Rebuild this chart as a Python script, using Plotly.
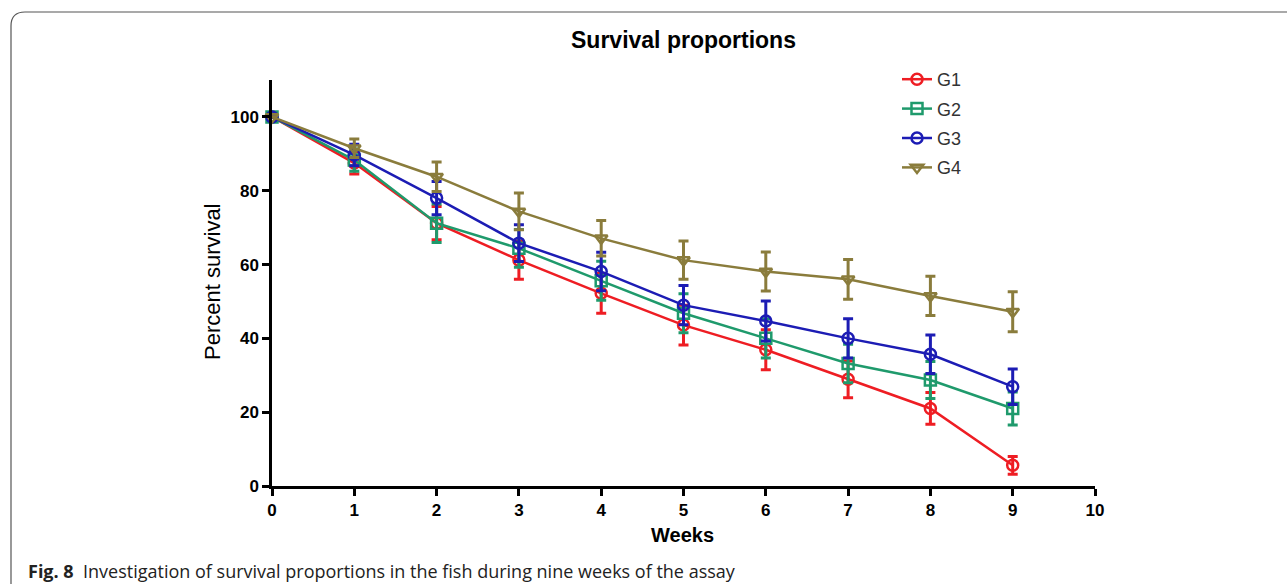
import plotly.graph_objects as go

weeks = [0, 1, 2, 3, 4, 5, 6, 7, 8, 9]
groups = ["G1", "G2", "G3", "G4"]
g1 = [100, 87.5, 71.2, 61.2, 52.2, 43.6, 36.9, 28.9, 21.0, 5.6]
g2 = [100, 88.3, 71.2, 64.4, 55.6, 46.8, 40.0, 33.2, 28.7, 21.0]
g3 = [100, 89.7, 78.0, 65.8, 58.1, 49.0, 44.7, 40.0, 35.7, 26.9]
g4 = [100, 91.5, 83.8, 74.4, 67.1, 61.2, 58.1, 56.0, 51.5, 47.2]
g1_err = [0, 3.0, 4.5, 5.2, 5.4, 5.4, 5.4, 5.0, 4.3, 2.4]
g2_err = [0, 3.0, 5.2, 5.1, 5.3, 5.3, 5.3, 5.2, 5.0, 4.5]
g3_err = [0, 2.9, 4.5, 5.0, 5.2, 5.3, 5.4, 5.3, 5.2, 4.8]
g4_err = [0, 2.5, 4.0, 5.0, 4.8, 5.2, 5.3, 5.4, 5.3, 5.4]
x_ticks = [0, 1, 2, 3, 4, 5, 6, 7, 8, 9, 10]
y_ticks = [0, 20, 40, 60, 80, 100]

colors = ["#ee1d23", "#1f9a6c", "#1c1cb4", "#8a7c3c"]
symbols = ["circle-open", "square-open", "circle-open", "triangle-down-open"]
values = [g1, g2, g3, g4]
errs = [g1_err, g2_err, g3_err, g4_err]

W, H = 1287, 584
L, R, T, B = 272, 1095, 80, 486
pw, ph = R - L, B - T

def px(x):
    return (x - L) / pw

def py(y):
    return (B - y) / ph

narrow = "Liberation Sans Narrow, Arial Narrow, Liberation Sans, Arial, sans-serif"

fig = go.Figure()
for name, v, e, c, s in zip(groups, values, errs, colors, symbols):
    fig.add_trace(go.Scatter(
        x=weeks, y=v, name=name, legendgroup=name, mode="lines+markers",
        line=dict(color=c, width=2.5),
        marker=dict(symbol=s, size=11, color=c, line=dict(color=c, width=2.5)),
        error_y=dict(type="data", array=e, visible=True, color=c, thickness=3, width=5),
        cliponaxis=False,
    ))

fig.update_layout(
    width=W, height=H,
    margin=dict(l=L, r=W - R, t=T, b=H - B),
    paper_bgcolor="white", plot_bgcolor="white",
    showlegend=True,
    legend=dict(x=px(897), y=py(61), xanchor="left", yanchor="top",
                font=dict(family="Liberation Sans, Arial, sans-serif", size=18, color="#333"),
                bgcolor="rgba(0,0,0,0)", itemwidth=30, tracegroupgap=3),
    xaxis=dict(range=[0, 10], tickvals=x_ticks, showgrid=False, zeroline=False,
               showline=True, linecolor="black", linewidth=2.5,
               ticks="outside", ticklen=7, tickwidth=2.5, tickcolor="black",
               tickfont=dict(family=narrow, size=17, color="black", weight="bold")),
    yaxis=dict(range=[0, 110], tickvals=y_ticks, showgrid=False, zeroline=False,
               showline=True, linecolor="black", linewidth=2.5,
               ticks="outside", ticklen=7, tickwidth=2.5, tickcolor="black",
               tickfont=dict(family=narrow, size=17, color="black", weight="bold")),
    annotations=[
        dict(text="<b>Survival proportions</b>", xref="paper", yref="paper",
             x=px(683), y=py(40), xanchor="center", yanchor="middle", showarrow=False,
             font=dict(family=narrow, size=23, color="black")),
        dict(text="<b>Weeks</b>", xref="paper", yref="paper",
             x=px(682), y=py(535), xanchor="center", yanchor="middle", showarrow=False,
             font=dict(family=narrow, size=20, color="black")),
        dict(text="Percent survival", xref="paper", yref="paper", textangle=-90,
             x=px(212), y=py(282), xanchor="center", yanchor="middle", showarrow=False,
             font=dict(family="Liberation Sans, Arial, sans-serif", size=22, color="black")),
        dict(text="<b>Fig. 8</b>  Investigation of survival proportions in the fish during nine weeks of the assay",
             xref="paper", yref="paper", x=px(26), y=py(571), xanchor="left", yanchor="middle",
             showarrow=False, font=dict(family="Open Sans, sans-serif", size=18, color="#222")),
    ],
)

# rounded frame
x0, x1 = px(11), px(1300)
y0, y1 = py(12), py(600)
rx, ry = 14 / pw, 14 / ph
path = (f"M {x0},{y1} L {x0},{y0 - ry} Q {x0},{y0} {x0 + rx},{y0} L {x1},{y0}")
fig.add_shape(type="path", xref="paper", yref="paper", path=path,
              line=dict(color="#555", width=1.2))

fig.write_html("out.html")
